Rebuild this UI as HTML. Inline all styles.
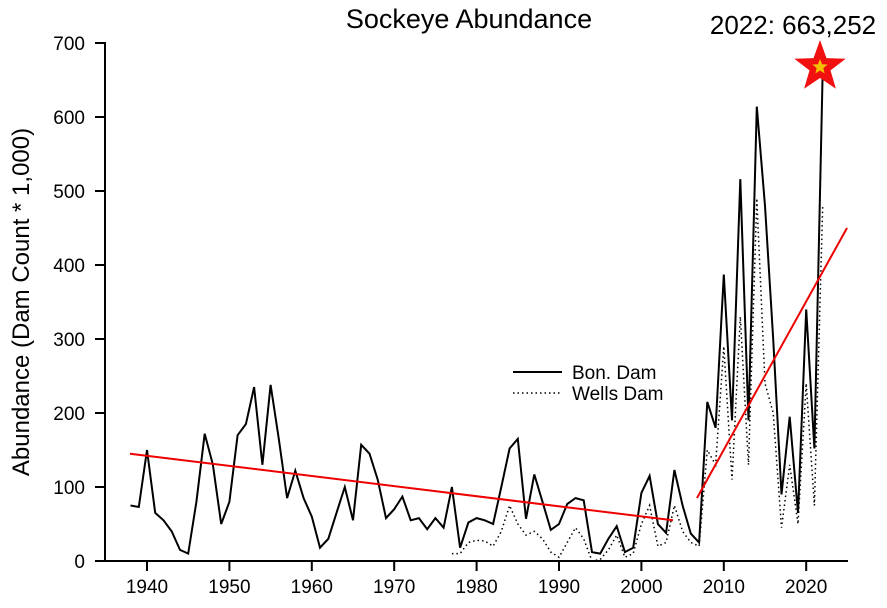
<!DOCTYPE html>
<html><head><meta charset="utf-8"><style>
html,body{margin:0;padding:0;background:#fff;}
svg{display:block;font-family:"Liberation Sans",Arial,sans-serif;}
</style></head><body>
<svg id="s" width="887" height="608" viewBox="0 0 887 608" xmlns="http://www.w3.org/2000/svg">
<rect width="887" height="608" fill="#fff"/>
<text x="469" y="28" font-size="27" text-anchor="middle">Sockeye Abundance</text>
<text x="793" y="34" font-size="26" text-anchor="middle">2022: 663,252</text>
<text transform="translate(29,302) rotate(-90)" font-size="24" text-anchor="middle">Abundance (Dam Count * 1,000)</text>
<g stroke="#000" stroke-width="2" fill="none">
<line x1="105" y1="42" x2="105" y2="562"/>
<line x1="104" y1="561" x2="848" y2="561"/>
</g>
<g id="ticks" stroke="#000" stroke-width="2"></g>
<g id="labels" font-size="19"></g>
<polyline id="wells" fill="none" stroke="#000" stroke-width="1.5" stroke-dasharray="1.5,3"/>
<polyline id="bon" fill="none" stroke="#000" stroke-width="2"/>
<line x1="130" y1="453.7" x2="673" y2="520.3" stroke="#e00" stroke-width="2"/>
<line x1="697" y1="498" x2="847" y2="228" stroke="#e00" stroke-width="2"/>
<line x1="513" y1="372" x2="562" y2="372" stroke="#000" stroke-width="2"/>
<line x1="513" y1="393" x2="562" y2="393" stroke="#000" stroke-width="1.5" stroke-dasharray="1.5,3"/>
<text x="572" y="379" font-size="19">Bon. Dam</text>
<text x="572" y="400" font-size="19">Wells Dam</text>
<polygon id="star" fill="#f01010"/>
<polygon id="star2" fill="#f5c000"/>
</svg>
<script>
var X=function(y){return 147+(y-1940)*8.24},Y=function(v){return 561-v*0.74};
var t=document.getElementById('ticks'),l=document.getElementById('labels'),ns="http://www.w3.org/2000/svg";
function el(p,n,a,txt){var e=document.createElementNS(ns,n);for(var k in a)e.setAttribute(k,a[k]);if(txt!==undefined)e.textContent=txt;p.appendChild(e);}
for(var v=0;v<=700;v+=100){el(t,'line',{x1:95,x2:105,y1:Y(v),y2:Y(v)});el(l,'text',{x:85,y:Y(v)+7,'text-anchor':'end'},v);}
for(var y=1940;y<=2020;y+=10){el(t,'line',{x1:X(y),x2:X(y),y1:561,y2:571});el(l,'text',{x:X(y),y:593,'text-anchor':'middle'},y);}
var bon=[75,73,150,65,55,40,15,10,80,172,130,50,80,170,185,235,130,238,165,85,122,85,60,18,30,65,100,55,157,145,110,58,70,87,55,58,43,58,45,100,18,52,58,55,50,100,152,165,57,117,80,42,50,77,85,82,12,10,30,47,12,18,92,115,50,38,123,75,37,25,215,180,387,190,516,190,614,480,300,90,195,65,340,152,663];
var p=bon.map(function(v,i){return X(1938+i).toFixed(1)+','+Y(v).toFixed(1)}).join(' ');
document.getElementById('bon').setAttribute('points',p);
var wells=[10,10,25,28,27,20,40,75,50,35,40,30,12,5,25,45,30,0,2,15,35,5,10,50,75,20,25,75,40,25,20,150,130,290,110,330,130,490,240,200,45,130,50,240,75,480];
p=wells.map(function(v,i){return X(1977+i).toFixed(1)+','+Y(v).toFixed(1)}).join(' ');
document.getElementById('wells').setAttribute('points',p);
function star(cx,cy,R,r){var s=[];for(var i=0;i<10;i++){var a=-Math.PI/2+i*Math.PI/5,rr=i%2?r:R;s.push((cx+rr*Math.cos(a)).toFixed(1)+','+(cy+rr*Math.sin(a)).toFixed(1));}return s.join(' ');}
document.getElementById('star').setAttribute('points',star(820,67,27,11));
document.getElementById('star2').setAttribute('points',star(820,67,8,3.5));
</script>
</body></html>
